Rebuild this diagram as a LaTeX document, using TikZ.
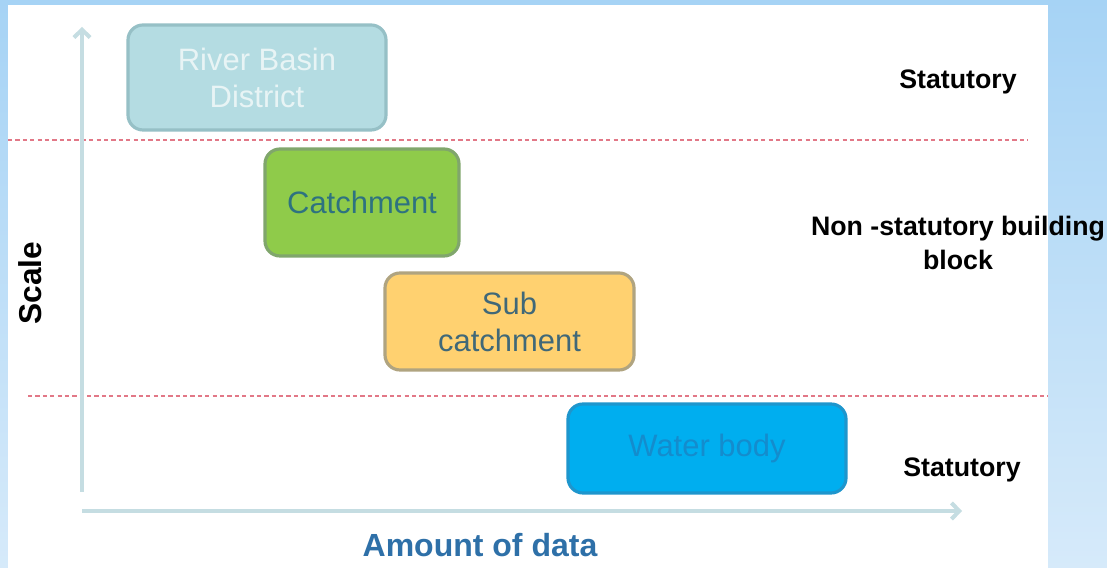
\documentclass[tikz,border=0pt]{standalone}
\usepackage{fontspec}
\setmainfont{Liberation Sans}
\usetikzlibrary{arrows.meta}
\definecolor{bgtop}{RGB}{166,211,245}
\definecolor{bgbot}{RGB}{214,234,250}
\definecolor{axisc}{RGB}{197,221,226}
\definecolor{sepc}{RGB}{226,120,135}
\definecolor{rbdfill}{RGB}{180,220,226}
\definecolor{rbddraw}{RGB}{150,192,198}
\definecolor{rbdtext}{RGB}{232,244,245}
\definecolor{catfill}{RGB}{143,203,74}
\definecolor{catdraw}{RGB}{128,166,108}
\definecolor{cattext}{RGB}{46,114,128}
\definecolor{subfill}{RGB}{255,209,112}
\definecolor{subdraw}{RGB}{176,164,128}
\definecolor{subtext}{RGB}{64,104,120}
\definecolor{wbfill}{RGB}{0,174,239}
\definecolor{wbdraw}{RGB}{30,150,205}
\definecolor{wbtext}{RGB}{20,140,205}
\definecolor{amtc}{RGB}{46,112,168}
\tikzset{
  level/.style={rounded corners=15*0.01cm, line width=0.9pt, align=center,
    inner sep=0pt, font=\fontsize{8.8}{10.5}\selectfont},
  tag/.style={font=\bfseries\fontsize{7.6}{9.6}\selectfont, align=center, inner sep=0pt},
  axisline/.style={axisc, line width=1.15pt, -{Straight Barb[length=2.2pt,width=4.6pt,line width=1.15pt]}},
  sepline/.style={sepc, line width=0.45pt, dash pattern=on 1.2pt off 0.9pt}
}
\begin{document}
\begin{tikzpicture}[x=0.01cm,y=-0.01cm]
  % frame: blue gradient with a white panel
  \useasboundingbox (0,0) rectangle (1107,568);
  \shade[top color=bgtop, bottom color=bgbot] (0,0) rectangle (1107,568);
  \fill[white] (8,5) rectangle (1048,568);

  % level boxes
  \node[level, fill=rbdfill, draw=rbddraw, text=rbdtext,
        minimum width=258*0.01cm, minimum height=105*0.01cm]
        (rbd) at (257,77.5) {River Basin\\District};
  \node[level, fill=catfill, draw=catdraw, text=cattext,
        minimum width=194*0.01cm, minimum height=107*0.01cm]
        (catch) at (362,202.5) {Catchment};
  \node[level, fill=subfill, draw=subdraw, text=subtext,
        minimum width=249*0.01cm, minimum height=97*0.01cm]
        (sub) at (509.5,321.5) {Sub\\catchment};
  \node[level, fill=wbfill, draw=wbdraw, text=wbtext,
        minimum width=278*0.01cm, minimum height=89*0.01cm]
        (wb) at (707,448.5) {Water body};

  % separators between statutory and non-statutory levels
  \coordinate (s1a) at (8,140);   \coordinate (s1b) at (1028,140);
  \coordinate (s2a) at (28,396);  \coordinate (s2b) at (1048,396);
  \draw[sepline] (s1a) -- (s1b);
  \draw[sepline] (s2a) -- (s2b);

  % axes
  \coordinate (ybot) at (82,492);  \coordinate (ytop) at (82,27);
  \coordinate (xl) at (82,511);    \coordinate (xr) at (962,511);
  \draw[axisline] (ybot) -- (ytop);
  \draw[axisline] (xl) -- (xr);

  % axis titles
  \node[font=\bfseries\fontsize{9}{11}\selectfont, rotate=90, inner sep=0pt]
        (scale) at (30,283) {Scale};
  \node[font=\bfseries\fontsize{9.1}{11}\selectfont, text=amtc, inner sep=0pt]
        (amount) at (480,545) {Amount of data};

  % status labels
  \node[tag] (st1) at (958,82) {Statutory};
  \node[tag] (nst) at (958,243) {Non -statutory building\\block};
  \node[tag] (st2) at (962,470) {Statutory};
\end{tikzpicture}
\end{document}
